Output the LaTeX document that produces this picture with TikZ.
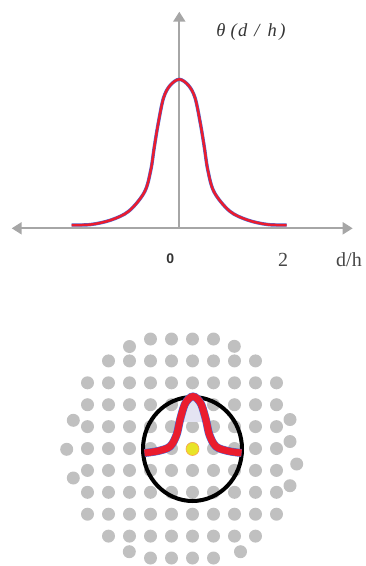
\documentclass[tikz,border=0pt]{standalone}
\usepackage{fontspec}
\setmainfont{Liberation Serif}
\newfontfamily\sansbold{Liberation Sans}
\usetikzlibrary{arrows.meta,shapes.geometric}
\definecolor{axisgray}{RGB}{166,166,166}
\definecolor{dotgray}{RGB}{192,192,192}
\definecolor{curvered}{RGB}{234,28,46}
\definecolor{curveblue}{RGB}{70,110,220}
\definecolor{lav}{RGB}{228,228,242}
\definecolor{ylw}{RGB}{232,228,40}
\definecolor{txtgray}{RGB}{70,70,70}
\tikzset{
  axisline/.style={draw=axisgray, line width=2pt, -{Triangle[length=10pt,width=12pt]}},
  dot/.style={circle, fill=dotgray, inner sep=0pt, minimum size=13pt},
  lbl/.style={inner sep=0pt, text=txtgray},
}
\begin{document}
\begin{tikzpicture}[x=1pt,y=-1pt]
\useasboundingbox (0,0) rectangle (365,566);
% axes
\coordinate (O) at (179.3,228.3);
\coordinate (L) at (11.7,228.3);
\coordinate (R) at (352.7,228.3);
\coordinate (T) at (179.3,11.7);
\draw[axisline] (O) -- (L);
\draw[axisline] (O) -- (R);
\draw[axisline] (O) -- (T);
% top curve
\def\topcurve{plot[smooth, tension=0.55] coordinates {
 (71.7,225) (91,224.5) (111,220) (129,211) (144.5,192) (150.8,170) (154.3,147) (158.3,123) (163.5,98) (170,85.5) (179.3,79.3)
 (188.6,85.5) (195.1,98) (200.3,123) (204.3,147) (207.8,170) (214.1,192) (229.5,211) (247.5,220) (267.5,224.5) (286.7,225)}}
\draw[curveblue, line width=3.4pt] \topcurve;
\draw[curvered, line width=2.5pt] \topcurve;
% labels
\node[lbl, text=black!80] (theta) at (251,32) {\itshape\fontsize{18.5}{18.5}\selectfont θ\kern5pt(\kern1.5pt d\kern7pt/\kern8pt h\kern2.5pt)};
\node[lbl, text=black!80] (zero) at (170.2,258.7) {\sansbold\bfseries\fontsize{14}{14}\selectfont 0};
\node[lbl] (two) at (283,260.3) {\fontsize{20}{20}\selectfont 2};
\node[lbl] (dh) at (349,260) {\fontsize{20}{20}\selectfont d/h};
% particles
\foreach \j/\a/\b in {0/3/6,1/1/8,2/0/9,3/0/9,4/0/9,5/0/9,6/0/9,7/0/9,8/0/9,9/1/8,10/3/6}{
  \foreach \i in {\a,...,\b}{
    \node[dot] (p-\i-\j) at ({87.5+21*\i},{339+21.9*\j}) {};
  }
}
\foreach \x/\y [count=\k] in {129.5/346.5,234.3/346.3,73.3/420.3,66.7/449.3,73.3/478,290/419.5,290/441.5,296.7/464,290/485.7,129.3/551.7,240.5/551.7}{
  \node[dot] (e\k) at (\x,\y) {};
}
% circle
\node[draw=black, line width=4pt, ellipse, minimum width=99pt, minimum height=104pt, inner sep=0pt] (ring) at (192.5,449) {};
% bottom curve
\def\botcurve{plot[smooth, tension=0.55] coordinates {
 (144.5,453) (158,451) (170,446.5) (176.5,435) (180,420) (184.5,405) (189,398.5) (193,396.5)
 (197,398.5) (201.5,405) (206,420) (209.5,435) (216,446.5) (228,451) (241.5,453)}}
\begin{scope}
\clip (100,380) rectangle (290,421);
\fill[lav] \botcurve -- cycle;
\end{scope}
\draw[curveblue, line width=8pt] \botcurve;
\draw[curvered, line width=7pt] \botcurve;
\node[circle, fill=ylw, draw=orange!70, line width=0.6pt, minimum size=13pt, inner sep=0pt] (src) at (192.5,449) {};
\end{tikzpicture}
\end{document}
